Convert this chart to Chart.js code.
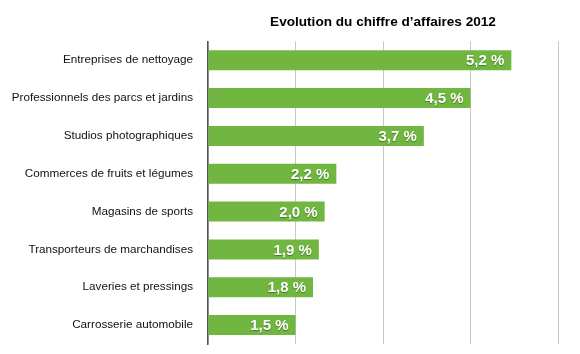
<!DOCTYPE html>
<html>
<head>
<meta charset="utf-8">
<script src="https://cdn.jsdelivr.net/npm/chart.js@4.4.1/dist/chart.umd.min.js"></script>
<style>
  html, body { margin: 0; padding: 0; background: #fff; }
  #wrap { width: 580px; height: 354px; }
</style>
</head>
<body>
<div id="wrap"><canvas id="chart"></canvas></div>
<script>
const categories = [
  'Entreprises de nettoyage',
  'Professionnels des parcs et jardins',
  'Studios photographiques',
  'Commerces de fruits et légumes',
  'Magasins de sports',
  'Transporteurs de marchandises',
  'Laveries et pressings',
  'Carrosserie automobile'
];
const growth = [5.2, 4.5, 3.7, 2.2, 2.0, 1.9, 1.8, 1.5];
const titleText = 'Evolution du chiffre d\u2019affaires 2012';

// draws "5,2 %" inside the end of each bar
const barLabels = {
  id: 'barLabels',
  afterDatasetsDraw(chart) {
    const ctx = chart.ctx;
    const meta = chart.getDatasetMeta(0);
    ctx.save();
    ctx.font = 'bold 15px "Liberation Sans", Arial, sans-serif';
    ctx.textAlign = 'right';
    ctx.textBaseline = 'middle';
    ctx.fillStyle = '#fff';
    ctx.shadowColor = 'rgba(40,80,20,0.6)';
    ctx.shadowOffsetY = 1;
    ctx.shadowBlur = 1;
    meta.data.forEach((bar, i) => {
      const txt = growth[i].toFixed(1).replace('.', ',') + ' %';
      ctx.fillText(txt, bar.x - 7, bar.y + 1);
    });
    ctx.restore();
  }
};

new Chart(document.getElementById('chart'), {
  type: 'bar',
  data: {
    labels: categories,
    datasets: [{
      data: growth,
      backgroundColor: '#71b640',
      borderWidth: 0,
      barPercentage: 0.53,
      categoryPercentage: 1
    }]
  },
  options: {
    indexAxis: 'y',
    responsive: true,
    maintainAspectRatio: false,
    animation: false,
    layout: { padding: { left: 0, right: 22, top: 0, bottom: 10 } },
    plugins: {
      legend: { display: false },
      tooltip: { enabled: false },
      title: {
        display: true,
        fullSize: false,
        text: titleText,
        color: '#000',
        font: { family: '"Liberation Sans", Arial, sans-serif', size: 13.6, weight: 'bold' },
        padding: { top: 14, bottom: 11 }
      }
    },
    scales: {
      x: {
        min: 0,
        max: 6,
        afterFit(axis) { axis.height = 0; },
        ticks: { stepSize: 1.5, display: false },
        grid: { color: '#c8c8c8', lineWidth: 1, drawTicks: false },
        border: { display: false }
      },
      y: {
        afterFit(axis) {
          axis.width = 208;
          axis.paddingTop = 0;
          axis.paddingBottom = 0;
        },
        ticks: {
          color: '#111',
          padding: 15,
          font: { family: '"Liberation Sans", Arial, sans-serif', size: 11.7 }
        },
        grid: { display: false, drawTicks: false },
        border: { display: true, color: '#555', width: 1.5 }
      }
    }
  },
  plugins: [barLabels]
});
</script>
</body>
</html>
